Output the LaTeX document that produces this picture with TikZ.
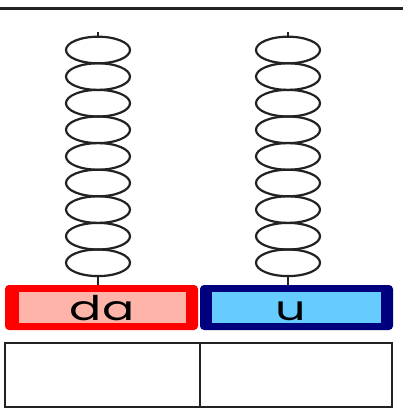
\documentclass[tikz,border=0pt]{standalone}
\usepackage{fontspec}
\setmainfont{Poppins}
\usetikzlibrary{shapes.geometric}
\definecolor{pinkfill}{HTML}{FFB4AA}
\definecolor{bluefill}{HTML}{66CCFF}
\definecolor{navy}{HTML}{00007F}
\definecolor{ink}{HTML}{222222}
\tikzset{
  bead/.style={ellipse, draw=ink, line width=2.2pt, minimum width=64pt, minimum height=26.6pt, inner sep=0pt},
  stub/.style={draw=ink, line width=1.6pt},
  label/.style={anchor=base, inner sep=0pt, font=\fontsize{34}{34}\selectfont},
  cell/.style={draw=ink, line width=1.8pt}
}
\begin{document}
\begin{tikzpicture}[x=1pt,y=-1pt]
\useasboundingbox (0,0) rectangle (403,412);
% top rule
\coordinate (tl) at (0,9);
\coordinate (tr) at (403,9);
\draw[draw=ink, line width=3pt] (tl) -- (tr);
% beads
\foreach \i in {1,...,9} {
  \node[bead] (L\i) at (98,{50+26.6*(\i-1)}) {};
  \node[bead] (R\i) at (288,{50+26.6*(\i-1)}) {};
}
\coordinate (Ltop) at (98,32);
\coordinate (Rtop) at (288,32);
\coordinate (Lbot) at (98,285);
\coordinate (Rbot) at (288,285);
\draw[stub] (Ltop) -- (L1.north);
\draw[stub] (Rtop) -- (R1.north);
\draw[stub] (L9.south) -- (Lbot);
\draw[stub] (R9.south) -- (Rbot);
% label boxes
\fill[red, rounded corners=4pt] (5,285) rectangle (198,330);
\fill[pinkfill] (19,292) rectangle (186,323);
\fill[navy, rounded corners=4pt] (200,285) rectangle (393,330);
\fill[bluefill] (212,292) rectangle (381,323);
\node[label] (da) at (102,320) {\scalebox{1.4}[1]{da}};
\node[label] (u) at (291,320) {\scalebox{1.4}[1]{u}};
% answer cells
\node[cell, minimum width=195pt, minimum height=64pt, inner sep=0pt] (c1) at (102.5,375) {};
\node[cell, minimum width=192pt, minimum height=64pt, inner sep=0pt] (c2) at (296,375) {};
\end{tikzpicture}
\end{document}
